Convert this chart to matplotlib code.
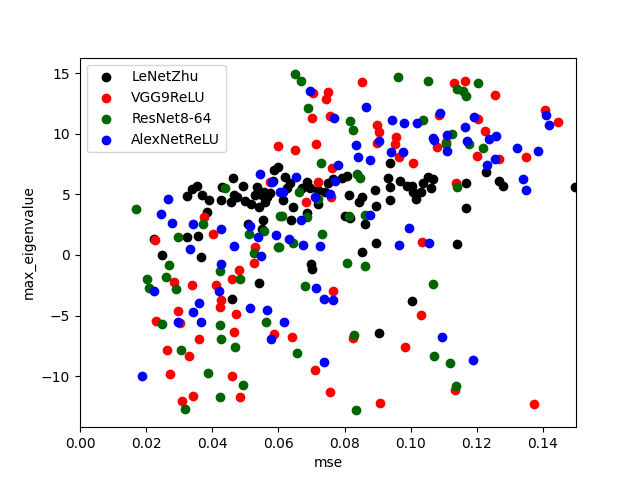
import matplotlib
matplotlib.use("Agg")
import matplotlib.pyplot as plt

# values
lenet_mse = [.0588, .0600, .0464, .0492, .0536, .0353, .0338, .0325, .0370, .0391, .0425, .0456, .0466, .0474,
             .0428, .0499, .0516, .0540, .0530, .0550, .0565, .0575, .0560, .0555, .0383, .0509, .0552, .0550,
             .0323, .0358, .0224, .0620, .0635, .0625, .0583, .0615, .0643, .0685, .0637, .0670, .0688, .0696,
             .0721, .0721, .0741, .0751, .0766, .0791, .0806, .0815, .0852, .0845, .0893, .0896, .0801, .0817,
             .0863, .0930, .0939, .0939, .0939, .0967, .0990, .1003, .1008, .1016, .0896, .0852, .1036, .1053,
             .1067, .1060, .1030, .1166, .1168, .1229, .1268, .1278, .1141, .1497, .1005, .0249, .0367, .0542,
             .0461, .0700, .0703, .0905]
lenet_eig = [7.01, 7.29, 6.35, 5.66, 5.60, 5.69, 5.41, 4.86, 4.95, 4.54, 4.51, 4.34, 4.95, 4.76,
             5.58, 4.43, 4.18, 3.98, 4.95, 4.95, 4.81, 5.08, 4.40, 5.22, 3.51, 2.55, 2.85, 2.12,
             1.45, 1.56, 1.28, 6.41, 5.91, 5.49, 6.07, 4.54, 3.95, 3.43, 2.85, 5.49, 6.02, 5.49,
             5.36, 4.18, 5.22, 5.91, 6.24, 6.33, 6.49, 4.95, 4.81, 4.40, 5.39, 4.01, 3.21, 3.07,
             2.53, 6.33, 5.58, 4.51, 7.56, 6.07, 5.69, 5.69, 5.22, 4.59, .96, .24, 5.96, 6.47,
             6.24, 5.55, 5.22, 5.91, 3.92, 6.87, 6.15, 5.66, .87, 5.60, -3.83, .04, -.20, -2.32,
             -3.61, -.75, -1.14, -6.40]

vgg_mse = [.0600, .0575, .0376, .0401, .0227, .0529, .0854, .0706, .0751, .0745, .0703, .0757, .0899, .0905,
           .0957, .0954, .0898, .0966, .1008, .0651, .0715, .0762, .0721, .0759, .0682, .1132, .1165, .1256,
           .1087, .1205, .1224, .1106, .1081, .1202, .1268, .1350, .1407, .1445, .1138, .1035, .0527, .0482,
           .0460, .0285, .0340, .0412, .0427, .0424, .0297, .0473, .0231, .0302, .0467, .0588, .0361, .0264,
           .0331, .0273, .0461, .0343, .0485, .0307, .0766, .0642, .0827, .0984, .0712, .0757, .0908, .1032,
           .1135, .1374]
vgg_eig = [8.99, 5.99, 3.10, 1.72, 1.20, .63, 14.26, 13.34, 13.42, 12.90, 11.28, 11.47, 10.73, 10.14,
           9.71, 9.16, 9.21, 8.08, 7.56, 8.64, 9.13, 7.15, 5.99, 4.76, 4.34, 14.17, 14.34, 13.18,
           11.58, 11.19, 10.20, 9.35, 8.88, 8.17, 7.89, 8.13, 11.93, 10.95, 5.91, 1.04, -.62, -1.27,
           -2.02, -2.27, -2.51, -2.51, -3.68, -4.33, -4.66, -4.91, -5.48, -5.65, -6.32, -6.56, -6.97, -7.88,
           -8.38, -9.86, -9.95, -11.68, -11.76, -12.03, -3.01, -6.73, -6.89, -7.63, -9.53, -11.35, -12.26, -4.99,
           -11.18, -12.34]

resnet_mse = [.0437, .0170, .0373, .0295, .0512, .0557, .0605, .0600, .0527, .0651, .0669, .0963, .0691, .0818,
              .0827, .0730, .0839, .0848, .0663, .0721, .0612, .0685, .0815, .0863, .0733, .0645, .0603, .1053,
              .1205, .1141, .1159, .1168, .1038, .1126, .1108, .1177, .1220, .1141, .0270, .0261, .0204, .0210,
              .0291, .0424, .0485, .0563, .0249, .0424, .0427, .0470, .0306, .0388, .0494, .0424, .0319, .0808,
              .0863, .0679, .0657, .0830, .0836, .1069, .1072, .1120, .1138]
resnet_eig = [5.49, 3.76, 2.53, 1.45, 1.70, 1.94, 3.21, .63, .14, 14.91, 14.39, 14.67, 12.10, 11.03,
              10.29, 7.56, 6.66, 6.33, 5.16, 4.59, 3.18, 3.10, 3.18, 3.27, 1.70, .96, .63, 14.34,
              14.17, 13.67, 13.50, 13.09, 11.11, 9.95, 9.13, 9.13, 8.80, 5.58, -.86, -1.85, -2.02, -2.76,
              -2.84, -1.35, -2.02, -5.57, -5.73, -5.81, -6.97, -7.63, -7.88, -9.78, -10.77, -11.76, -12.75, -.70,
              -.94, -2.60, -8.05, -6.64, -12.83, -2.43, -8.38, -8.95, -10.85]

alexnet_mse = [.0545, .0582, .0267, .0246, .0279, .0343, .0515, .0425, .0539, .0594, .0334, .0467, .0605, .0697,
               .0866, .0769, .0945, .0981, .1020, .0836, .0905, .0942, .0978, .0842, .0878, .0781, .0654, .0772,
               .0613, .0712, .0757, .0878, .0669, .0996, .0633, .0675, .0727, .0966, .1090, .1193, .1165, .1069,
               .1072, .1111, .1111, .1171, .1238, .1259, .1323, .1386, .1410, .1419, .1232, .1256, .1341, .1350,
               .1056, .0548, .0427, .0225, .0421, .0361, .0343, .0297, .0367, .0515, .0566, .0579, .0189, .0715,
               .0739, .0766, .0618, .0739, .1096, .1187]
alexnet_eig = [6.65, 5.99, 4.59, 3.35, 2.61, 2.53, 2.36, 2.12, 1.45, 1.61, .46, .71, 5.16, 13.50,
               12.18, 11.28, 11.11, 10.87, 10.87, 9.05, 9.38, 8.47, 8.47, 8.13, 7.81, 7.47, 6.41, 6.15,
               5.16, 4.76, 5.00, 3.27, 2.85, 2.20, 1.28, .79, .71, .79, 11.69, 11.36, 10.54, 9.62,
               9.46, 9.87, 8.56, 9.38, 9.54, 9.79, 8.80, 8.56, 11.52, 10.70, 7.47, 7.89, 6.24, 5.33,
               .96, -.12, -.78, -3.01, -3.01, -3.99, -4.74, -5.57, -5.57, -4.41, -4.58, -6.97, -9.95, -2.76,
               -3.67, -3.75, -5.57, -8.87, -6.73, -8.71]

fig, ax = plt.subplots(figsize=(6.4, 4.8), dpi=100)

ax.scatter(lenet_mse, lenet_eig, c="black", label="LeNetZhu")
ax.scatter(vgg_mse, vgg_eig, c="red", label="VGG9ReLU")
ax.scatter(resnet_mse, resnet_eig, c="darkgreen", label="ResNet8-64")
ax.scatter(alexnet_mse, alexnet_eig, c="blue", label="AlexNetReLU")

ax.set_xlim(0, 0.15)
ax.set_xlabel("mse")
ax.set_ylabel("max_eigenvalue")
ax.legend(loc="upper left")

plt.savefig("out.png", dpi=100)
